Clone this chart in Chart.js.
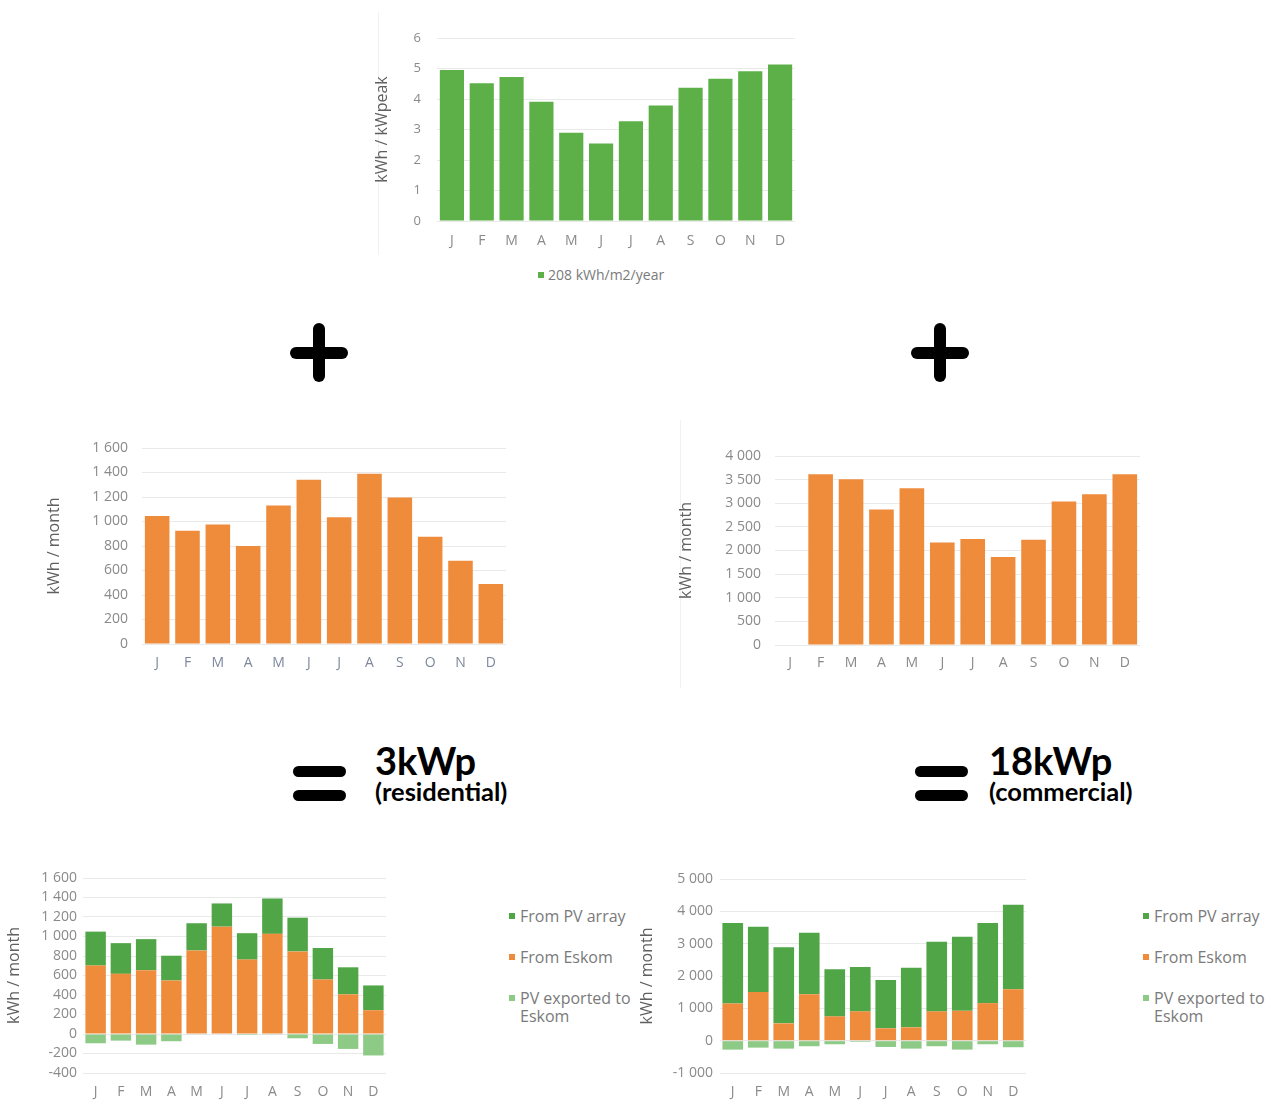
<!DOCTYPE html>
<html>
<head>
<meta charset="utf-8">
<script src="https://cdn.jsdelivr.net/npm/chart.js@4"></script>
<style>
  body { margin: 0; background: #fff; width: 1271px; height: 1104px; position: relative; overflow: hidden; }
  canvas { position: absolute; }
  .bar { position: absolute; background: #000; border-radius: 6px; }
  .big { position: absolute; font-family: Lato, sans-serif; font-weight: bold; color: #000; white-space: nowrap; }
  .leg { position: absolute; font: 16px 'Open Sans', sans-serif; color: #7a7a7a; line-height: 18px; white-space: nowrap; }
  .leg i { position: absolute; width: 6px; height: 6px; left: -11px; top: 6px; }
  .frame { position: absolute; background: #f1f1f1; }
</style>
</head>
<body>
<div class="frame" style="left:378px;top:12px;width:1px;height:243px"></div>
<div class="frame" style="left:680px;top:420px;width:1px;height:268px"></div>

<canvas id="yieldChart"></canvas>
<canvas id="resLoad"></canvas>
<canvas id="comLoad"></canvas>
<canvas id="resMix"></canvas>
<canvas id="comMix"></canvas>

<!-- plus signs -->
<div class="bar" style="left:313px;top:323px;width:12px;height:59px"></div>
<div class="bar" style="left:290px;top:347px;width:58px;height:12px"></div>
<div class="bar" style="left:934px;top:323px;width:12px;height:59px"></div>
<div class="bar" style="left:911px;top:347px;width:58px;height:12px"></div>

<!-- equals signs -->
<div class="bar" style="left:293px;top:766px;width:53px;height:11px"></div>
<div class="bar" style="left:293px;top:790px;width:53px;height:11px"></div>
<div class="bar" style="left:915px;top:766px;width:53px;height:11px"></div>
<div class="bar" style="left:915px;top:790px;width:53px;height:11px"></div>

<div class="big" style="left:375px;top:741px;font-size:38px;line-height:38px">3kWp</div>
<div class="big" style="left:375px;top:779px;font-size:25.5px;line-height:25px">(residential)</div>
<div class="big" style="left:989px;top:741px;font-size:38px;line-height:38px">18kWp</div>
<div class="big" style="left:989px;top:779px;font-size:25.5px;line-height:25px">(commercial)</div>

<div id="legends"></div>

<script>
// Month initials along every x axis
const months = ['J', 'F', 'M', 'A', 'M', 'J', 'J', 'A', 'S', 'O', 'N', 'D'];

// Specific yield, kWh per kWpeak per day
const yieldPerKwp = [4.95, 4.52, 4.72, 3.91, 2.89, 2.54, 3.27, 3.79, 4.37, 4.66, 4.91, 5.13];
const yieldLabel = '208 kWh/m2/year';

// Monthly consumption, kWh / month
const residentialLoad = [1045, 925, 975, 800, 1130, 1340, 1035, 1390, 1195, 875, 680, 490];
const commercialLoad = [null, 3615, 3510, 2870, 3315, 2170, 2245, 1865, 2225, 3035, 3190, 3615];

// 3kWp residential system, kWh / month
const resFromEskom = [702, 617, 654, 549, 857, 1101, 763, 1027, 847, 559, 407, 244];
const resFromPv = [348, 315, 319, 254, 279, 238, 271, 363, 346, 323, 277, 254];
const resExported = [-95, -68, -109, -74, -6, 0, -10, -3, -44, -102, -153, -220];

// 18kWp commercial system, kWh / month
const comFromEskom = [1150, 1508, 535, 1437, 751, 905, 382, 412, 905, 923, 1160, 1591];
const comFromPv = [2493, 2012, 2357, 1898, 1455, 1372, 1495, 1846, 2153, 2289, 2483, 2615];
const comExported = [-277, -215, -246, -172, -111, -35, -194, -246, -172, -277, -111, -203];

const mixLabels = ['From PV array', 'From Eskom', 'PV exported to\nEskom'];

const GREEN = '#5cb047';
const ORANGE = '#ef8c3c';
const PV_GREEN = '#50a547';
const EXPORT_GREEN = '#8dca85';

function fmt(v) {
  const s = Math.abs(v).toString().replace(/\B(?=(\d{3})+(?!\d))/g, ' ');
  return (v < 0 ? '-' : '') + s;
}

// plot: wanted chart area (page pixels); titleX: centre of the rotated y title
function makeChart(id, plot, cfg) {
  const tickSize = cfg.tickSize || 14;
  const xh = 30;
  // the y scale reserves half a label height plus its tick padding above the area
  const padTop = Math.max(15, Math.ceil(tickSize * 0.6 + cfg.ypad) + 1);
  const left = cfg.titleX - 10;
  const yw = plot.left - left;
  const box = { x: left, y: plot.top - padTop, w: plot.right + 10 - left, h: padTop + (plot.bottom - plot.top) + xh };

  const c = document.getElementById(id);
  c.width = box.w; c.height = box.h;
  c.style.left = box.x + 'px'; c.style.top = box.y + 'px';
  return new Chart(c, {
    type: 'bar',
    data: { labels: months, datasets: cfg.datasets },
    options: {
      responsive: false,
      animation: false,
      devicePixelRatio: 1,
      layout: { padding: { left: 0, top: padTop, right: 10, bottom: 0 } },
      plugins: { legend: { display: false }, tooltip: { enabled: false } },
      datasets: { bar: { categoryPercentage: 0.81, barPercentage: 1 } },
      scales: {
        x: {
          stacked: !!cfg.stacked,
          grid: { display: false, drawTicks: false },
          border: { display: false },
          ticks: { padding: cfg.xpad, color: cfg.xcolor || '#8a8a8a', font: { family: 'Open Sans', size: 14 } },
          afterFit: s => { s.height = xh; }
        },
        y: {
          stacked: !!cfg.stacked,
          min: cfg.min, max: cfg.max,
          ticks: { stepSize: cfg.step, autoSkip: false, padding: cfg.ypad, color: '#8a8a8a', font: { family: 'Open Sans', size: tickSize }, callback: v => fmt(v) },
          grid: { color: '#e9e9e9', drawTicks: false },
          border: { display: false },
          title: { display: true, text: cfg.title, color: '#5f5f5f', font: { family: 'Open Sans', size: 16 }, padding: { top: 0, bottom: 0 } },
          afterFit: s => { s.width = yw; }
        }
      }
    }
  });
}

makeChart('yieldChart', { left: 437, top: 38, right: 795, bottom: 221 }, {
  datasets: [{ label: yieldLabel, data: yieldPerKwp, backgroundColor: GREEN }],
  min: 0, max: 6, step: 1, titleX: 383, ypad: 16, xpad: 12, tickSize: 13, title: 'kWh / kWpeak'
});

makeChart('resLoad', { left: 142, top: 448, right: 506, bottom: 644 }, {
  datasets: [{ label: 'Residential load', data: residentialLoad, backgroundColor: ORANGE }],
  min: 0, max: 1600, step: 200, titleX: 55, ypad: 14, xpad: 11, xcolor: '#7d889c', title: 'kWh / month'
});

makeChart('comLoad', { left: 775, top: 456, right: 1140, bottom: 645 }, {
  datasets: [{ label: 'Commercial load', data: commercialLoad, backgroundColor: ORANGE }],
  min: 0, max: 4000, step: 500, titleX: 687, ypad: 14, xpad: 10, title: 'kWh / month'
});

function mixDatasets(eskom, pv, exported) {
  return [
    { label: mixLabels[1], data: eskom, backgroundColor: ORANGE, stack: 'energy' },
    { label: mixLabels[0], data: pv, backgroundColor: PV_GREEN, stack: 'energy' },
    { label: mixLabels[2], data: exported, backgroundColor: EXPORT_GREEN, stack: 'energy' }
  ];
}

const resMix = makeChart('resMix', { left: 83, top: 878, right: 386, bottom: 1073 }, {
  datasets: mixDatasets(resFromEskom, resFromPv, resExported), stacked: true,
  min: -400, max: 1600, step: 200, titleX: 15, ypad: 6, xpad: 11, title: 'kWh / month'
});

const comMix = makeChart('comMix', { left: 720, top: 879, right: 1026, bottom: 1073 }, {
  datasets: mixDatasets(comFromEskom, comFromPv, comExported), stacked: true,
  min: -1000, max: 5000, step: 1000, titleX: 648, ypad: 7, xpad: 11, title: 'kWh / month'
});

// Legends, built from the charts' own dataset labels and colours
const legendHost = document.getElementById('legends');
function addLegend(items, x, ys) {
  items.forEach((ds, i) => {
    const d = document.createElement('div');
    d.className = 'leg';
    d.style.left = x + 'px';
    d.style.top = (ys[i] - 9) + 'px';
    d.innerHTML = '<i style="background:' + ds.color + '"></i>' + ds.text.replace('\n', '<br>');
    legendHost.appendChild(d);
  });
}
function mixLegendItems(chart) {
  const ds = chart.data.datasets;
  return [ds[1], ds[0], ds[2]].map(d => ({ text: d.label, color: d.backgroundColor }));
}
addLegend(mixLegendItems(resMix), 520, [916, 957, 998]);
addLegend(mixLegendItems(comMix), 1154, [916, 957, 998]);

const yl = document.createElement('div');
yl.className = 'leg';
yl.style.cssText = 'left:548px;top:266px;font-size:14px;line-height:18px';
yl.innerHTML = '<i style="background:' + GREEN + ';left:-10px"></i>' + yieldLabel;
legendHost.appendChild(yl);
</script>
</body>
</html>
